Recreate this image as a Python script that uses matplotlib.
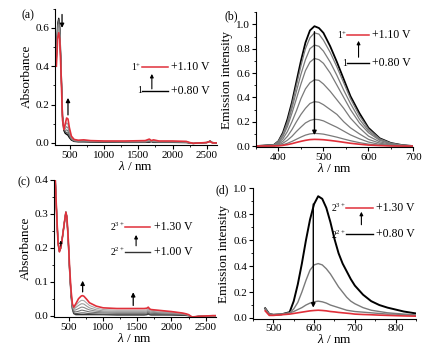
import matplotlib
matplotlib.use("Agg")
import matplotlib.pyplot as plt
from matplotlib.ticker import MultipleLocator

plt.rcParams['font.family'] = ['Liberation Serif', 'DejaVu Serif']
plt.rcParams['mathtext.fontset'] = 'custom'
plt.rcParams['mathtext.rm'] = 'Liberation Serif'
plt.rcParams['mathtext.it'] = 'Liberation Serif:italic'

# ---------------- panel (a): absorbance of 1 ----------------
wl_a = [300, 320, 335, 350, 370, 390, 410, 430, 450, 470, 490, 520, 560, 620, 700, 800,
        1000, 1300, 1600, 1660, 1690, 1720, 1800, 2000, 2200, 2250, 2300, 2400, 2500, 2550, 2580, 2650]
abs_a_black = [0.45, 0.62, 0.65, 0.60, 0.38, 0.14, 0.065, 0.05, 0.045, 0.04, 0.028, 0.015, 0.008, 0.006, 0.006, 0.005,
               0.004, 0.003, 0.003, 0.004, 0.007, 0.003, 0.003, 0.003, 0.002, 0.0, -0.003, 0.0, 0.002, 0.01, 0.002, 0.0]
abs_a_gray = [
    [0.45, 0.615, 0.645, 0.595, 0.375, 0.14, 0.07, 0.058, 0.055, 0.05, 0.034, 0.017, 0.009, 0.007, 0.007, 0.006,
     0.005, 0.004, 0.004, 0.006, 0.008, 0.004, 0.004, 0.004, 0.003, 0.0, -0.003, 0.0, 0.002, 0.008, 0.002, 0.0],
    [0.44, 0.61, 0.635, 0.585, 0.37, 0.135, 0.07, 0.066, 0.068, 0.062, 0.042, 0.02, 0.011, 0.008, 0.009, 0.007,
     0.006, 0.005, 0.005, 0.008, 0.009, 0.006, 0.005, 0.005, 0.004, 0.001, -0.003, 0.0, 0.002, 0.008, 0.002, 0.0],
    [0.43, 0.595, 0.62, 0.575, 0.365, 0.13, 0.07, 0.075, 0.085, 0.078, 0.052, 0.024, 0.013, 0.01, 0.011, 0.009,
     0.007, 0.006, 0.006, 0.011, 0.01, 0.008, 0.006, 0.006, 0.005, 0.001, -0.003, 0.0, 0.002, 0.008, 0.002, 0.0],
    [0.42, 0.575, 0.60, 0.56, 0.36, 0.125, 0.07, 0.088, 0.105, 0.097, 0.065, 0.029, 0.015, 0.012, 0.013, 0.011,
     0.009, 0.008, 0.009, 0.015, 0.011, 0.012, 0.008, 0.008, 0.006, 0.002, -0.003, 0.0, 0.002, 0.008, 0.002, 0.0],
]
abs_a_red = [0.40, 0.55, 0.575, 0.54, 0.35, 0.12, 0.07, 0.10, 0.13, 0.125, 0.08, 0.035, 0.018, 0.014, 0.016, 0.012,
             0.01, 0.01, 0.012, 0.02, 0.012, 0.016, 0.01, 0.01, 0.008, 0.002, -0.002, 0.0, 0.002, 0.008, 0.0, 0.0]

# ---------------- panel (b): emission of 1 ----------------
wl_b = [350, 390, 400, 410, 420, 430, 440, 450, 460, 470, 480, 490, 500, 515, 530, 545, 560, 580, 600, 625, 650, 675, 700]
em_b_black = [0, 0.01, 0.04, 0.11, 0.22, 0.36, 0.53, 0.70, 0.85, 0.95, 0.985, 0.97, 0.93, 0.82, 0.69, 0.55, 0.41, 0.27, 0.15, 0.064, 0.025, 0.008, 0]
em_b_gray = [
    [0, 0.01, 0.04, 0.10, 0.20, 0.34, 0.50, 0.66, 0.80, 0.89, 0.93, 0.92, 0.87, 0.77, 0.65, 0.52, 0.39, 0.25, 0.14, 0.06, 0.023, 0.007, 0],
    [0, 0.008, 0.033, 0.09, 0.18, 0.31, 0.45, 0.59, 0.71, 0.80, 0.83, 0.82, 0.78, 0.69, 0.58, 0.46, 0.35, 0.22, 0.125, 0.054, 0.021, 0.007, 0],
    [0, 0.007, 0.029, 0.08, 0.16, 0.27, 0.39, 0.51, 0.62, 0.69, 0.72, 0.71, 0.68, 0.60, 0.50, 0.40, 0.30, 0.19, 0.11, 0.047, 0.018, 0.006, 0],
    [0, 0.005, 0.022, 0.06, 0.12, 0.20, 0.29, 0.39, 0.47, 0.52, 0.545, 0.54, 0.51, 0.45, 0.38, 0.31, 0.23, 0.15, 0.082, 0.035, 0.014, 0.004, 0],
    [0, 0.004, 0.015, 0.04, 0.08, 0.135, 0.20, 0.26, 0.31, 0.35, 0.365, 0.36, 0.34, 0.30, 0.26, 0.20, 0.15, 0.10, 0.055, 0.024, 0.009, 0.003, 0],
    [0, 0.002, 0.009, 0.024, 0.048, 0.08, 0.12, 0.156, 0.19, 0.21, 0.22, 0.217, 0.207, 0.18, 0.154, 0.123, 0.092, 0.06, 0.033, 0.014, 0.006, 0.002, 0],
    [0, 0.001, 0.004, 0.011, 0.023, 0.038, 0.056, 0.074, 0.09, 0.10, 0.104, 0.102, 0.098, 0.086, 0.073, 0.058, 0.044, 0.028, 0.016, 0.007, 0.003, 0.001, 0],
]
em_b_red = [0, 0.001, 0.002, 0.006, 0.012, 0.02, 0.03, 0.039, 0.047, 0.053, 0.055, 0.054, 0.052, 0.046, 0.039, 0.031, 0.023, 0.015, 0.008, 0.004, 0.001, 0.0, 0]

# ---------------- panel (c): absorbance of 2 ----------------
wl_c = [300, 320, 340, 360, 380, 400, 420, 440, 455, 470, 490, 510, 530, 550, 570, 600, 640, 680, 700, 720, 760,
        800, 900, 1000, 1200, 1400, 1600, 1640, 1660, 1680, 1700, 1800, 2000, 2150, 2200, 2250, 2300, 2400, 2500, 2600, 2650]
abs_c_black = [0.40, 0.30, 0.215, 0.19, 0.20, 0.225, 0.255, 0.285, 0.305, 0.29, 0.22, 0.13, 0.06, 0.02, 0.006, 0.003, 0.003,
               0.003, 0.003, 0.003, 0.003, 0.003, 0.003, 0.003, 0.002, 0.002, 0.002, 0.003, 0.005, 0.003, 0.002, 0.002,
               0.002, 0.001, 0.001, 0.0, -0.004, -0.002, -0.001, 0.0, 0.0]
abs_c_gray = [
    [0.40, 0.30, 0.215, 0.19, 0.20, 0.225, 0.255, 0.285, 0.305, 0.29, 0.22, 0.13, 0.062, 0.022, 0.008, 0.006, 0.007,
     0.008, 0.008, 0.008, 0.007, 0.006, 0.005, 0.004, 0.004, 0.004, 0.004, 0.005, 0.007, 0.005, 0.004, 0.004,
     0.003, 0.002, 0.002, 0.0, -0.004, -0.002, -0.001, 0.0, 0.0],
    [0.40, 0.30, 0.215, 0.19, 0.20, 0.225, 0.255, 0.285, 0.305, 0.29, 0.22, 0.132, 0.064, 0.025, 0.012, 0.011, 0.013,
     0.016, 0.016, 0.015, 0.013, 0.011, 0.009, 0.008, 0.007, 0.007, 0.007, 0.008, 0.011, 0.008, 0.007, 0.006,
     0.005, 0.004, 0.003, 0.001, -0.004, -0.002, -0.001, 0.0, 0.0],
    [0.40, 0.30, 0.215, 0.19, 0.20, 0.225, 0.255, 0.285, 0.305, 0.29, 0.222, 0.134, 0.067, 0.028, 0.016, 0.017, 0.021,
     0.025, 0.025, 0.024, 0.02, 0.017, 0.013, 0.011, 0.010, 0.010, 0.010, 0.011, 0.014, 0.011, 0.010, 0.009,
     0.007, 0.005, 0.004, 0.001, -0.004, -0.002, -0.001, 0.0, 0.0],
    [0.40, 0.30, 0.215, 0.189, 0.20, 0.225, 0.255, 0.285, 0.305, 0.29, 0.223, 0.136, 0.07, 0.03, 0.019, 0.024, 0.030,
     0.035, 0.035, 0.034, 0.028, 0.023, 0.017, 0.014, 0.013, 0.013, 0.013, 0.014, 0.018, 0.014, 0.013, 0.011,
     0.009, 0.006, 0.005, 0.002, -0.004, -0.002, -0.001, 0.0, 0.0],
    [0.40, 0.30, 0.215, 0.189, 0.20, 0.225, 0.255, 0.285, 0.305, 0.29, 0.224, 0.138, 0.072, 0.032, 0.022, 0.03, 0.039,
     0.045, 0.045, 0.044, 0.037, 0.03, 0.022, 0.018, 0.016, 0.016, 0.016, 0.017, 0.021, 0.017, 0.016, 0.014,
     0.011, 0.007, 0.006, 0.002, -0.004, -0.002, -0.001, 0.0, 0.0],
]
abs_c_red = [0.40, 0.30, 0.215, 0.188, 0.20, 0.225, 0.255, 0.285, 0.305, 0.29, 0.225, 0.14, 0.075, 0.035, 0.025, 0.035,
             0.05, 0.058, 0.059, 0.057, 0.048, 0.038, 0.028, 0.023, 0.021, 0.021, 0.021, 0.022, 0.025, 0.020, 0.018,
             0.016, 0.012, 0.008, 0.006, 0.003, -0.004, -0.002, -0.001, 0.0, 0.0]

# ---------------- panel (d): emission of 2 ----------------
wl_d = [480, 490, 500, 520, 540, 550, 560, 570, 580, 590, 600, 610, 620, 630, 640, 650, 660, 670, 680, 690, 700,
        720, 740, 760, 780, 800, 820, 850]
em_d_black = [0.075, 0.03, 0.025, 0.028, 0.045, 0.13, 0.26, 0.42, 0.60, 0.76, 0.88, 0.94, 0.92, 0.85, 0.74, 0.61, 0.50,
              0.42, 0.36, 0.30, 0.25, 0.18, 0.13, 0.10, 0.08, 0.065, 0.05, 0.035]
em_d_gray = [
    [0.075, 0.03, 0.025, 0.028, 0.04, 0.07, 0.12, 0.20, 0.29, 0.37, 0.41, 0.42, 0.41, 0.38, 0.34, 0.29, 0.24,
     0.20, 0.16, 0.13, 0.11, 0.08, 0.06, 0.05, 0.04, 0.035, 0.03, 0.025],
    [0.065, 0.03, 0.025, 0.03, 0.04, 0.05, 0.065, 0.08, 0.10, 0.115, 0.125, 0.13, 0.125, 0.115, 0.10, 0.09, 0.08,
     0.07, 0.06, 0.055, 0.05, 0.045, 0.04, 0.035, 0.03, 0.03, 0.025, 0.02],
]
em_d_red = [0.055, 0.02, 0.02, 0.025, 0.03, 0.035, 0.04, 0.045, 0.05, 0.055, 0.058, 0.06, 0.058, 0.055, 0.05, 0.047,
            0.043, 0.04, 0.037, 0.034, 0.03, 0.027, 0.025, 0.022, 0.02, 0.018, 0.016, 0.014]

RED = '#e0303a'
GRAY = '#7a7a7a'
TICK_FS = 8
LAB_FS = 9.5

fig = plt.figure(figsize=(4.28, 3.49), dpi=100)
ax_a = fig.add_axes([0.1285, 0.585, 0.3785, 0.390])
ax_b = fig.add_axes([0.598, 0.578, 0.368, 0.387])
ax_c = fig.add_axes([0.126, 0.0907, 0.3785, 0.3936])
ax_d = fig.add_axes([0.591, 0.087, 0.381, 0.373])


def style(ax, xlim, ylim, xmaj, xmin, ymaj, ymin, ylabel):
    ax.set_xlim(*xlim)
    ax.set_ylim(*ylim)
    ax.spines['top'].set_visible(False)
    ax.spines['right'].set_visible(False)
    for s in ('left', 'bottom'):
        ax.spines[s].set_linewidth(0.8)
    ax.xaxis.set_major_locator(MultipleLocator(xmaj))
    ax.xaxis.set_minor_locator(MultipleLocator(xmin))
    ax.yaxis.set_major_locator(MultipleLocator(ymaj))
    ax.yaxis.set_minor_locator(MultipleLocator(ymin))
    ax.tick_params(which='major', direction='out', length=3, width=0.8, labelsize=TICK_FS, pad=1.2)
    ax.tick_params(which='minor', direction='out', length=1.5, width=0.6)
    ax.yaxis.set_major_formatter(matplotlib.ticker.FormatStrFormatter('%.1f'))
    ax.set_xlabel(r'$\mathit{\lambda}$ / nm', fontsize=LAB_FS, labelpad=0)
    ax.set_ylabel(ylabel, fontsize=LAB_FS, labelpad=2)


def arrow(ax, x, y0, y1, lw=0.9, ms=6):
    ax.annotate('', xy=(x, y1), xytext=(x, y0),
                arrowprops=dict(arrowstyle='-|>', color='k', lw=lw, mutation_scale=ms,
                                shrinkA=0, shrinkB=0))


def key(ax, label_hi, v_hi, label_lo, v_lo, xs, x_text, y_hi, y_lo, x_arrow, a0, a1, lo_color='k'):
    ax.plot(xs, [y_hi, y_hi], color=RED, lw=1.1)
    ax.plot(xs, [y_lo, y_lo], color=lo_color, lw=1.0)
    ax.text(xs[0], y_hi, label_hi, ha='right', va='center', fontsize=7)
    ax.text(xs[0], y_lo, label_lo, ha='right', va='center', fontsize=7)
    ax.text(x_text, y_hi, v_hi, ha='left', va='center', fontsize=8.5)
    ax.text(x_text, y_lo, v_lo, ha='left', va='center', fontsize=8.5)
    arrow(ax, x_arrow, a0, a1, lw=0.8, ms=5)


# (a)
ax = ax_a
ax.plot(wl_a, abs_a_black, color='k', lw=1.0)
for i, g in enumerate(abs_a_gray):
    ax.plot(wl_a, g, color=['#555555', '#6e6e6e', '#888888', '#9a9a9a'][i], lw=0.8)
ax.plot(wl_a, abs_a_red, color=RED, lw=1.2)
style(ax, (280, 2650), (-0.01, 0.7), 500, 250, 0.2, 0.1, 'Absorbance')
arrow(ax, 383, 0.67, 0.60)
arrow(ax, 470, 0.146, 0.235)
key(ax, r'$\mathrm{1^{+}}$', '+1.10 V', '1', '+0.80 V', [1551, 1930], 1974, 0.396, 0.271, 1697, 0.282, 0.36)

# (b)
ax = ax_b
ax.plot(wl_b, em_b_black, color='k', lw=1.3)
for g in em_b_gray:
    ax.plot(wl_b, g, color=GRAY, lw=0.9)
ax.plot(wl_b, em_b_red, color=RED, lw=1.2)
style(ax, (350, 700), (-0.01, 1.1), 100, 50, 0.2, 0.1, 'Emission intensity')
arrow(ax, 480, 0.94, 0.09, lw=1.0)
key(ax, r'$\mathrm{1^{+}}$', '+1.10 V', '1', '+0.80 V', [553, 602], 607, 0.91, 0.68, 578, 0.73, 0.865)

# (c)
ax = ax_c
ax.plot(wl_c, abs_c_black, color='#333333', lw=1.0)
for i, g in enumerate(abs_c_gray):
    ax.plot(wl_c, g, color=['#555555', '#6e6e6e', '#888888', '#9a9a9a', '#aaaaaa'][i], lw=0.8)
ax.plot(wl_c, abs_c_red, color=RED, lw=1.2)
style(ax, (280, 2650), (-0.005, 0.4), 500, 250, 0.1, 0.05, 'Absorbance')
arrow(ax, 700, 0.07, 0.103)
arrow(ax, 1440, 0.03, 0.069)
arrow(ax, 380, 0.205, 0.222, lw=0.7, ms=4)
key(ax, r'$\mathrm{2^{3+}}$', '+1.30 V', r'$\mathrm{2^{2+}}$', '+1.00 V', [1319, 1690], 1749, 0.261, 0.187,
    1482, 0.206, 0.238, lo_color='#333333')

# (d)
ax = ax_d
ax.plot(wl_d, em_d_black, color='k', lw=1.4)
for g in em_d_gray:
    ax.plot(wl_d, g, color=GRAY, lw=1.0)
ax.plot(wl_d, em_d_red, color=RED, lw=1.2)
style(ax, (450, 850), (-0.005, 1.0), 100, 50, 0.2, 0.1, 'Emission intensity')
arrow(ax, 598, 0.88, 0.08, lw=1.0)
key(ax, r'$\mathrm{2^{3+}}$', '+1.30 V', r'$\mathrm{2^{2+}}$', '+0.80 V', [679, 745], 752, 0.85, 0.645, 716, 0.72, 0.82)

fig.text(0.066, 0.957, '(a)', fontsize=8.5, ha='center', va='center')
fig.text(0.540, 0.954, '(b)', fontsize=8.5, ha='center', va='center')
fig.text(0.057, 0.479, '(c)', fontsize=8.5, ha='center', va='center')
fig.text(0.519, 0.456, '(d)', fontsize=8.5, ha='center', va='center')

fig.savefig('out.png', dpi=100)
